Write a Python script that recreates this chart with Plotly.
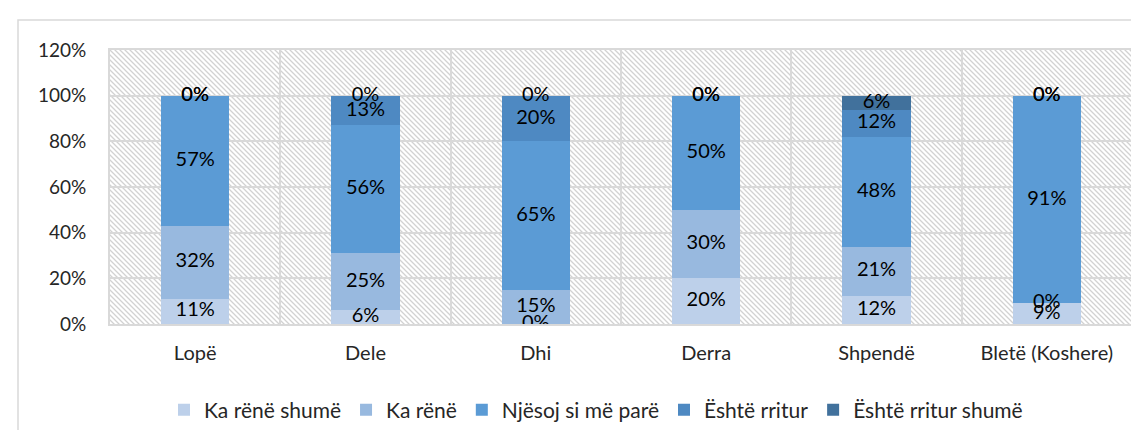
import base64
import plotly.graph_objects as go

categories = ["Lopë", "Dele", "Dhi", "Derra", "Shpendë", "Bletë (Koshere)"]
series_names = ["Ka rënë shumë", "Ka rënë", "Njësoj si më parë", "Është rritur", "Është rritur shumë"]
ka_rene_shume = [11, 6, 0, 20, 12.4, 9]
ka_rene = [32, 25, 15, 30, 21.3, 0]
njesoj = [57, 56, 65, 50, 48.4, 91]
eshte_rritur = [0, 13, 20, 0, 11.8, 0]
eshte_rritur_shume = [0, 0, 0, 0, 6.1, 0]
y_ticks = [0, 20, 40, 60, 80, 100, 120]

series = [ka_rene_shume, ka_rene, njesoj, eshte_rritur, eshte_rritur_shume]
colors = ["#BDD0EA", "#98B9DF", "#5B9BD5", "#4E89C2", "#41719C"]

FONT = "Lato, 'Open Sans', sans-serif"

# plot area geometry (pixels)
W, H = 1139, 430
ML, MR, MT, MB = 102, 15, 42, 114
PW, PH = W - ML - MR, H - MT - MB

fig = go.Figure()

for name, vals, col in zip(series_names, series, colors):
    fig.add_trace(go.Bar(
        x=categories, y=vals, name=name, marker=dict(color=col, line=dict(width=0)),
        width=0.4, hoverinfo="skip",
    ))

# data labels at segment centres (zero segments sit at their stack position)
cum = [0.0] * len(categories)
for vals in series:
    ys, texts = [], []
    for i, v in enumerate(vals):
        ys.append(cum[i] + v / 2)
        texts.append(f"{round(v):d}%")
        cum[i] += v
    fig.add_trace(go.Scatter(
        x=categories, y=ys, mode="text", text=texts, textposition="middle center",
        textfont=dict(family=FONT, size=20, color="#000000"),
        showlegend=False, hoverinfo="skip",
    ))

# hatched plot-area background
svg = (
    f'<svg xmlns="http://www.w3.org/2000/svg" width="{PW}" height="{PH}">'
    '<defs><pattern id="h" patternUnits="userSpaceOnUse" width="5" height="5">'
    '<path d="M0,0 L5,5 M-1,4 L1,6 M4,-1 L6,1" stroke="#d2d2d2" stroke-width="1.3"/>'
    '</pattern></defs>'
    f'<rect width="{PW}" height="{PH}" fill="white"/>'
    f'<rect width="{PW}" height="{PH}" fill="url(#h)"/></svg>'
)
src = "data:image/svg+xml;base64," + base64.b64encode(svg.encode()).decode()
fig.add_layout_image(dict(
    source=src, xref="paper", yref="paper", x=0, y=1, sizex=1, sizey=1,
    xanchor="left", yanchor="top", sizing="stretch", layer="below",
))

# outer chart border (partially cropped in the reference)
fig.add_shape(type="rect", xref="paper", yref="paper",
              x0=(10 - ML) / PW, x1=1.3, y0=-0.6, y1=(H - MB - 12) / PH,
              line=dict(color="#D9D9D9", width=1.5), fillcolor="rgba(0,0,0,0)", layer="below")

fig.update_layout(
    width=W, height=H, barmode="stack",
    margin=dict(l=ML, r=MR, t=MT, b=MB, autoexpand=False),
    paper_bgcolor="white", plot_bgcolor="rgba(0,0,0,0)",
    font=dict(family=FONT, color="#262626"),
    legend=dict(orientation="h", xref="container", yref="container",
                x=588 / W, xanchor="center",
                y=1 - 402 / H, yanchor="middle",
                font=dict(family=FONT, size=21, color="#262626"),
                traceorder="normal", itemwidth=30, tracegroupgap=0),
    xaxis=dict(
        type="category", showgrid=True, gridcolor="#D9D9D9", gridwidth=2,
        tickson="boundaries", ticks="", showline=True, mirror=True, automargin=False,
        linecolor="#D9D9D9", linewidth=2, tickfont=dict(family=FONT, size=20, color="#262626"),
        ticklabelstandoff=10,
    ),
    yaxis=dict(
        range=[0, 120], tickvals=y_ticks, ticktext=[f"{t}%" for t in y_ticks],
        showgrid=True, gridcolor="#D9D9D9", gridwidth=2, zeroline=False, automargin=False,
        showline=True, mirror=True, linecolor="#D9D9D9", linewidth=2,
        ticks="", tickfont=dict(family=FONT, size=19, color="#262626"),
        ticklabelstandoff=18,
    ),
    showlegend=True,
)

fig.write_html("out.html")
